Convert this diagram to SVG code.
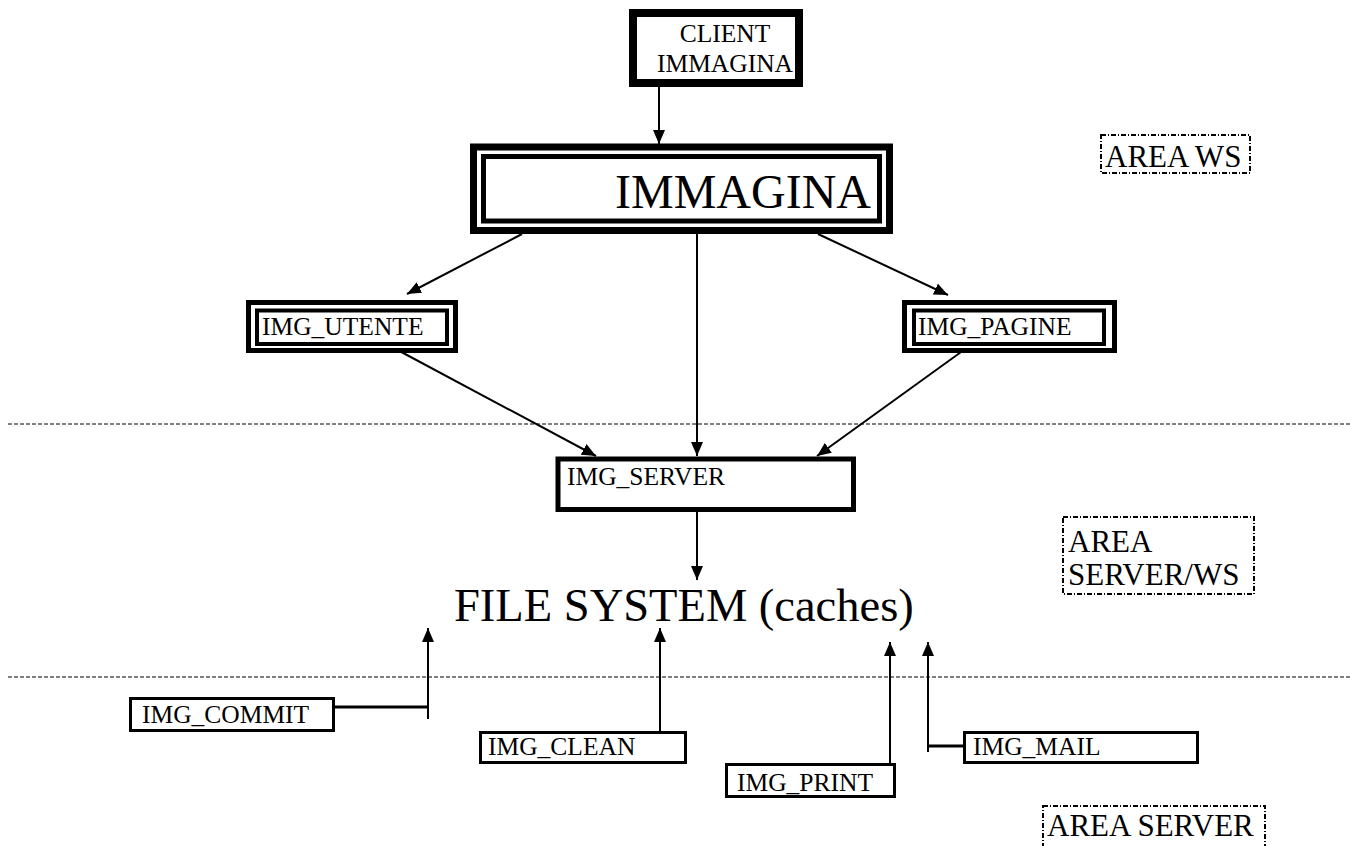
<svg xmlns="http://www.w3.org/2000/svg" width="1358" height="846" viewBox="0 0 1358 846">
<style>
text{font-family:"Liberation Serif","Times New Roman",serif;fill:#000}
.lbl{font-size:25.5px}
.area{font-size:31px}
.box{fill:#fff;stroke:#000}
.ln{fill:none;stroke:#000;stroke-width:2}
.dash{fill:none;stroke:#000;stroke-width:1;stroke-dasharray:4 2}
.dot{fill:none;stroke:#000;stroke-width:2;stroke-dasharray:5 2 1 2}
</style>
<defs>
<marker id="ah" viewBox="0 0 14 12" refX="14" refY="6" markerWidth="14" markerHeight="12" markerUnits="userSpaceOnUse" orient="auto">
<path d="M0,0 L14,6 L0,12 z" fill="#000"/>
</marker>
</defs>
<line class="dash" x1="8" y1="424" x2="1350" y2="424"/>
<line class="dash" x1="8" y1="677" x2="1350" y2="677"/>
<g id="connectors">
<line class="ln" x1="659" y1="87" x2="659" y2="144" marker-end="url(#ah)"/>
<line class="ln" x1="522" y1="234" x2="407" y2="294" marker-end="url(#ah)"/>
<line class="ln" x1="818" y1="234" x2="948" y2="295" marker-end="url(#ah)"/>
<line class="ln" x1="697" y1="234" x2="697" y2="456" marker-end="url(#ah)"/>
<line class="ln" x1="392" y1="347" x2="596" y2="456" marker-end="url(#ah)"/>
<line class="ln" x1="968" y1="347" x2="817" y2="456" marker-end="url(#ah)"/>
<line class="ln" x1="697" y1="512" x2="697" y2="580" marker-end="url(#ah)"/>
<line class="ln" x1="428" y1="719" x2="428" y2="628" marker-end="url(#ah)"/>
<line class="ln" x1="332" y1="707" x2="428" y2="707" style="stroke-width:3"/>
<line class="ln" x1="660" y1="737" x2="660" y2="628" marker-end="url(#ah)"/>
<line class="ln" x1="890" y1="769" x2="890" y2="642" marker-end="url(#ah)"/>
<line class="ln" x1="928" y1="752" x2="928" y2="642" marker-end="url(#ah)"/>
<line class="ln" x1="928" y1="746" x2="965" y2="746" style="stroke-width:3"/>
</g>
<g id="client">
<rect class="box" x="633" y="13" width="166" height="70" stroke-width="8"/>
<text class="lbl" x="725" y="42" text-anchor="middle">CLIENT</text>
<text class="lbl" x="725" y="72" text-anchor="middle">IMMAGINA</text>
</g>
<g id="immagina">
<rect class="box" x="473.5" y="147" width="416" height="83.5" stroke-width="7"/>
<rect class="box" x="483.5" y="156.5" width="396" height="64.5" stroke-width="5"/>
<text x="615" y="208" style="font-size:48px">IMMAGINA</text>
</g>
<g id="img_utente">
<rect class="box" x="248.5" y="302.5" width="207" height="48" stroke-width="5"/>
<rect class="box" x="257" y="310.5" width="190" height="33.5" stroke-width="4"/>
<text class="lbl" x="262" y="335">IMG_UTENTE</text>
</g>
<g id="img_pagine">
<rect class="box" x="904.5" y="302.5" width="210" height="48" stroke-width="5"/>
<rect class="box" x="914" y="310.5" width="190" height="33.5" stroke-width="4"/>
<text class="lbl" x="918" y="335">IMG_PAGINE</text>
</g>
<g id="img_server">
<rect class="box" x="558" y="459" width="295.5" height="50.5" stroke-width="5"/>
<text class="lbl" x="567" y="485">IMG_SERVER</text>
</g>
<g id="file_system">
<text x="454" y="621" style="font-size:46.5px">FILE SYSTEM (caches)</text>
</g>
<g id="img_commit">
<rect class="box" x="130.5" y="698.5" width="203" height="32" stroke-width="3"/>
<text class="lbl" x="142" y="723">IMG_COMMIT</text>
</g>
<g id="img_clean">
<rect class="box" x="480.5" y="732.5" width="205" height="30" stroke-width="3"/>
<text class="lbl" x="488" y="755">IMG_CLEAN</text>
</g>
<g id="img_print">
<rect class="box" x="726.5" y="764.5" width="168" height="32" stroke-width="3"/>
<text class="lbl" x="737" y="791">IMG_PRINT</text>
</g>
<g id="img_mail">
<rect class="box" x="964.5" y="732.5" width="233" height="30" stroke-width="3"/>
<text class="lbl" x="973" y="755">IMG_MAIL</text>
</g>
<g id="area_ws">
<rect class="dot" x="1101" y="135" width="149" height="38"/>
<text class="area" x="1105" y="167">AREA WS</text>
</g>
<g id="area_server_ws">
<rect class="dot" x="1063" y="517" width="191" height="77"/>
<text class="area" x="1068" y="552">AREA</text>
<text class="area" x="1068" y="585">SERVER/WS</text>
</g>
<g id="area_server">
<rect class="dot" x="1043" y="806" width="222" height="44"/>
<text class="area" x="1047" y="836">AREA SERVER</text>
</g>
</svg>
